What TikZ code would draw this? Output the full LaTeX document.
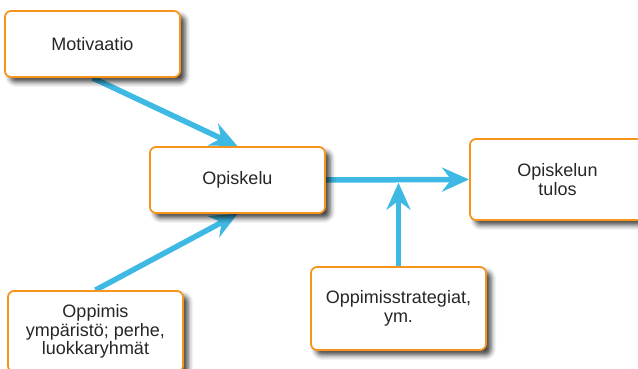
\documentclass[tikz,border=0pt]{standalone}
\usepackage{fontspec}
\setmainfont{Liberation Sans}
\usetikzlibrary{arrows.meta,shadows.blur,backgrounds}
\definecolor{boxorange}{HTML}{F7941D}
\definecolor{arrowblue}{HTML}{3EB9E4}
\definecolor{txtgray}{HTML}{262626}
\tikzset{
  box/.style={draw=boxorange, line width=1.8pt, rounded corners=6pt, fill=white,
    minimum width=175pt, inner sep=2pt, align=center, text=txtgray,
    font=\fontsize{18}{18.5}\selectfont,
    blur shadow={shadow xshift=5pt, shadow yshift=-5pt, shadow blur radius=5pt, shadow opacity=75}},
  conn/.style={draw=arrowblue, line width=5.5pt,
    -{Stealth[length=27pt, width=24pt, inset=9pt]}}
}
\begin{document}
\begin{tikzpicture}[x=1pt,y=1pt]
\useasboundingbox (0,0) rectangle (638,369);
\clip (0,0) rectangle (638,369);
\node[box, minimum height=66pt] (mot) at (92.5,325) {Motivaatio};
\node[box, minimum height=66pt] (opi) at (237.5,189) {Opiskelu};
\node[box, minimum height=81pt] (tulos) at (557.5,189.5) {Opiskelun\\tulos};
\node[box, minimum height=81pt] (ymp) at (95.5,37.5) {Oppimis\\ympäristö; perhe,\\luokkaryhmät};
\node[box, minimum height=83pt] (strat) at (398.5,60.5) {Oppimisstrategiat,\\ym.};
\coordinate (join) at (strat.north |- opi.east);
\begin{pgfonlayer}{background}
\draw[conn] (mot.south) -- (opi.north);
\draw[conn] (ymp.north) -- (opi.south);
\draw[conn] (opi.east) -- (tulos.west);
\draw[conn, shorten >=2.75pt] (strat.north) -- (join);
\end{pgfonlayer}
\end{tikzpicture}
\end{document}
